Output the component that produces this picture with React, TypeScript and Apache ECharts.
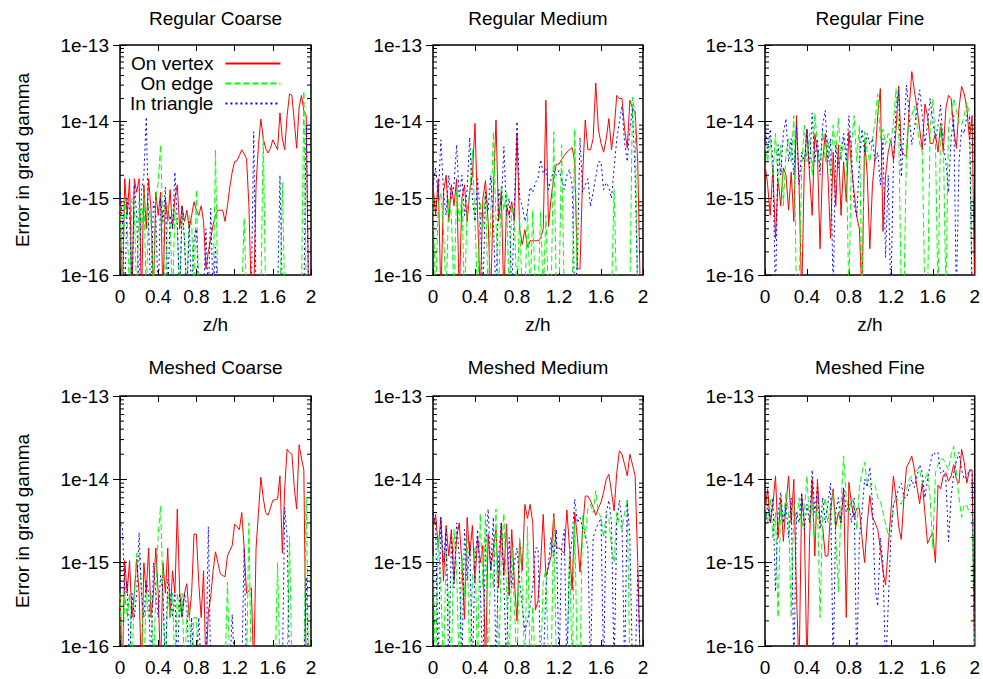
import React, { useEffect, useRef } from 'react';
import * as echarts from 'echarts';

// value used for exact zeros (below the log axis, drawn down to the frame)
const Z = 5e-17;

const zh = [
  0, 0.025, 0.05, 0.075, 0.1, 0.125, 0.15, 0.175,
  0.2, 0.225, 0.25, 0.275, 0.3, 0.325, 0.35, 0.375,
  0.4, 0.425, 0.45, 0.475, 0.5, 0.525, 0.55, 0.575,
  0.6, 0.625, 0.65, 0.675, 0.7, 0.725, 0.75, 0.775,
  0.8, 0.825, 0.85, 0.875, 0.9, 0.925, 0.95, 0.975,
  1, 1.025, 1.05, 1.075, 1.1, 1.125, 1.15, 1.175,
  1.2, 1.225, 1.25, 1.275, 1.3, 1.325, 1.35, 1.375,
  1.4, 1.425, 1.45, 1.475, 1.5, 1.525, 1.55, 1.575,
  1.6, 1.625, 1.65, 1.675, 1.7, 1.725, 1.75, 1.775,
  1.8, 1.825, 1.85, 1.875, 1.9, 1.925, 1.95, 1.975,
  2,
];

const regCoarseVertex = [
  1e-15, Z, 1.8e-15, 6e-16, 1.8e-15, Z, 1.8e-15, 1.2e-15,
  1.8e-15, Z, 1.5e-15, 4e-16, 1.8e-15, 7e-16, Z, 1.2e-15,
  6e-16, 1.2e-15, Z, 1e-15, 5e-16, 1.3e-15, 4e-16, 1e-15,
  1.5e-15, 4e-16, 8e-16, 5e-16, 7e-16, 4e-16, 6e-16, 9e-16,
  7e-16, 6e-16, 8e-16, 5e-16, 1.2e-16, 2e-16, 3e-16, 4.5e-16,
  6e-16, 7e-16, 7e-16, 7e-16, 5e-16, 8e-16, 1.4e-15, 2.2e-15,
  3e-15, 3.1e-15, 3.6e-15, 4.3e-15, 3.8e-15, 3.3e-15, 8e-16, Z,
  Z, 1.5e-15, 5e-15, 1.08e-14, 6e-15, 4.5e-15, 3.9e-15, 4.5e-15,
  5.8e-15, 5e-15, 4.3e-15, 1.3e-14, 6e-15, 4.3e-15, 1.2e-14, 2.3e-14,
  2.2e-14, 1e-14, 4.5e-15, 1.5e-14, 2.2e-14, 1.4e-14, 1.2e-14, Z,
  Z,
];
const regCoarseEdge = [
  8e-16, Z, 1e-15, 5e-16, Z, 1e-15, 7e-16, Z,
  9e-16, 4e-16, 1.2e-15, Z, 8e-16, 5e-16, Z, 1e-15,
  1.6e-15, 5e-15, 4e-16, Z, 8e-16, 5e-16, Z, 7e-16,
  4e-16, Z, 6e-16, 3e-16, Z, 6e-16, 5e-16, Z,
  1.3e-15, Z, Z, Z, Z, Z, Z, Z,
  4.3e-15, Z, Z, Z, Z, Z, Z, Z,
  Z, Z, Z, Z, 5.5e-16, Z, Z, Z,
  Z, Z, Z, Z, 6.7e-15, Z, Z, Z,
  Z, Z, Z, Z, 1.6e-15, Z, Z, Z,
  Z, Z, Z, Z, Z, 2.5e-14, Z, Z,
  Z,
];
const regCoarseTri = [
  1.2e-15, 5e-16, Z, 1e-15, 7e-16, Z, 1.5e-15, 6e-16,
  Z, 1.3e-15, 2e-15, 1.15e-14, 4e-16, Z, 9e-16, 6e-16,
  Z, 1e-15, 5e-16, 1.4e-15, Z, 6e-16, 4e-16, 2.2e-15,
  5e-16, Z, 8e-16, 3e-16, Z, 5e-16, Z, 3e-16,
  4e-16, Z, Z, Z, 4e-16, Z, 7.4e-16, Z,
  2.3e-16, Z, Z, Z, Z, Z, Z, Z,
  Z, Z, Z, Z, Z, Z, Z, Z,
  7.4e-15, Z, Z, Z, Z, Z, Z, Z,
  Z, Z, Z, 2e-15, Z, Z, Z, Z,
  Z, Z, Z, Z, Z, Z, 9e-15, Z,
  Z,
];

const regMedVertex = [
  1.5e-15, 6e-16, 1.8e-15, Z, 1.2e-15, 2e-15, 5e-16, 1.5e-15,
  8e-16, 1.8e-15, Z, 1e-15, 1.5e-15, 5e-16, 1.2e-15, 2e-15,
  9.5e-15, 6e-16, Z, 1e-15, 1.7e-15, 5e-16, Z, 1.2e-15,
  1.05e-14, 5e-16, 1.2e-15, Z, 8e-16, 6e-16, 9e-16, 5e-16,
  7e-15, 4e-16, 2.5e-16, 3.9e-16, 2.3e-16, 2.8e-16, 2.8e-16, 2.8e-16,
  2.8e-16, 3e-16, 4e-16, 1.9e-14, 4.3e-16, 1e-15, 1.9e-15, 2.8e-15,
  2.8e-15, 3.2e-15, 3.6e-15, 4e-15, 4.3e-15, 4.6e-15, 3e-15, 1.2e-16,
  1.2e-16, 2e-15, 1.05e-14, 4.3e-15, 4.3e-15, 6e-15, 3.2e-14, 8e-15,
  5.2e-15, 4e-15, 6e-15, 1.1e-14, 4.3e-15, 8e-15, 2.2e-14, 2e-14,
  2e-14, 8e-15, 4.5e-15, 1.9e-14, 1.5e-14, 1.35e-14, 3e-15, Z,
  Z,
];
const regMedEdge = [
  1e-15, Z, 8e-16, 1.2e-15, 4e-16, Z, 1e-15, 6e-16,
  Z, 1.3e-15, 5e-16, 1e-15, Z, 7e-16, 1.2e-15, 4.3e-15,
  5e-16, Z, 9e-16, 4e-16, 1.3e-15, Z, 6e-16, 7.4e-15,
  5e-16, Z, 1.5e-15, 7e-16, 1.2e-15, Z, 8e-16, 5e-16,
  Z, 6e-16, Z, Z, 7e-16, Z, 7e-16, Z,
  Z, 6.7e-16, Z, 6e-16, Z, Z, 7.4e-15, Z,
  Z, 5e-15, Z, Z, Z, Z, 8e-15, Z,
  Z, Z, Z, Z, Z, Z, Z, Z,
  Z, Z, Z, Z, Z, 1.3e-15, Z, Z,
  Z, Z, Z, Z, 2.1e-14, 1.2e-14, Z, Z,
  Z,
];
const regMedTri = [
  1.5e-15, 2.5e-15, 1e-15, 5.8e-15, 1.2e-15, 6e-16, 2e-15, 1e-15,
  1.5e-15, 5e-15, 1e-15, 2e-15, 6e-16, 1.3e-15, 6.2e-15, 1e-15,
  5e-16, 1.8e-15, 6e-16, Z, 1.2e-15, 7e-16, 2e-15, 5e-16,
  Z, 1.3e-15, 8e-16, 4.7e-15, 6e-16, 1e-15, Z, 8e-16,
  1e-14, 1e-15, 8e-16, 5e-16, 7e-16, 1.4e-15, 1.2e-15, 1.6e-15,
  1.8e-15, 3.2e-15, 2.1e-15, 2.5e-15, 1.3e-15, 1.8e-15, 2.3e-15, 2e-15,
  2.3e-15, 1.8e-15, 1.3e-15, 2e-15, 2.4e-15, 1.5e-15, Z, 1.5e-16,
  6.2e-15, 1.2e-15, 1.5e-15, 1.8e-15, 7.8e-16, 1.2e-15, 1.9e-15, 3e-15,
  3e-15, 1.3e-15, 1.6e-15, 1.4e-15, 1e-15, 2.5e-15, 5.8e-15, 1e-14,
  1.6e-14, 5.2e-15, 3e-15, 8e-15, 1.5e-14, 2e-15, Z, Z,
  Z,
];

const regFineVertex = [
  2.8e-15, 1.5e-15, 6e-16, 2.5e-15, 3e-16, 1.8e-15, 8e-16, 2.5e-15,
  2e-15, 7e-16, 2.2e-15, 5e-16, 1.2e-14, 1.5e-15, Z, 2.5e-15,
  8e-15, 2e-15, 6e-16, 7e-15, 4e-15, 2.2e-16, 3e-15, 7e-15,
  2e-15, 3e-16, 4e-15, 8e-16, 5e-15, 6e-16, 3e-15, 9e-16,
  7.4e-15, 2.5e-15, 1.2e-15, 5.8e-16, 4e-16, Z, 5.8e-15, 2e-15,
  2.2e-16, 1.5e-15, 3.5e-15, 1.2e-14, 2.7e-14, 3.7e-16, 2e-15, 4e-15,
  5.8e-15, 3.1e-15, 8e-15, 2.9e-14, 4.3e-15, 3.7e-15, 3.5e-15, 1.5e-14,
  4.5e-14, 2.5e-14, 1.5e-14, 8e-15, 4.3e-15, 1.7e-14, 1.2e-14, 5.2e-15,
  5.2e-15, 7e-15, 4e-15, 9.5e-15, 4e-15, 1.5e-14, 2.2e-14, 2e-14,
  8e-15, 4.5e-15, 1.5e-14, 2.9e-14, 2.3e-14, 1.5e-14, 5.8e-15, 1.2e-14,
  Z,
];
const regFineEdge = [
  5e-15, 3e-15, 6e-15, 2e-15, 7e-15, 1.5e-15, 5e-15, 8e-16,
  4e-15, 6e-15, 3e-15, 1.2e-14, Z, Z, 2.5e-15, 9e-15,
  3e-15, 7e-15, 2e-15, 1.3e-14, 5e-15, 2.5e-15, 8e-15, 3e-15,
  6e-15, 2e-15, 9e-15, 4e-15, 1.1e-14, 3e-15, 6e-15, 4e-15,
  Z, 5e-15, 1.2e-14, 3e-15, 9e-15, Z, 7.4e-15, 4e-15,
  3e-15, 6e-15, 1e-14, 2.3e-14, 6e-15, 8e-15, 5e-15, 7e-15,
  5e-15, 1e-14, 2.7e-14, 8e-15, Z, Z, 5e-15, 1e-14,
  1.2e-14, 1.6e-14, 9e-15, 5.2e-15, 4e-15, Z, Z, 8e-15,
  2e-14, 6e-15, Z, 9e-15, 7e-15, Z, 9e-15, 1.2e-14,
  2e-14, 1.4e-14, 1e-14, 9e-15, 1.2e-14, 1.8e-14, 1.2e-14, Z,
  Z,
];
const regFineTri = [
  1e-14, 4e-15, 8e-15, 3e-15, Z, 5e-15, 2e-15, 7e-15,
  1.1e-14, 3e-15, 6e-15, 2e-15, 9e-15, 1.5e-15, 4e-15, 3e-15,
  8e-15, 2.5e-15, 1.3e-14, 3e-15, 6e-15, 2e-15, 9e-15, 1.4e-14,
  3e-15, 6e-15, Z, 5e-15, 2.5e-15, 4e-15, 7e-15, 3e-15,
  1.2e-14, 4e-15, 8e-16, 5.8e-16, 3e-15, 8e-15, 4e-15, 7e-15,
  5e-15, 6e-15, 3e-15, 4e-15, 1.5e-15, 6e-15, 1.7e-16, 2e-15,
  Z, 3e-15, 1.5e-14, 2.5e-14, 1.9e-15, 8e-15, 3e-14, 1.2e-14,
  5e-15, 8e-15, 1.5e-14, 2.6e-14, 1.2e-14, 5e-15, 9e-15, 2e-14,
  1e-14, 6e-15, 9e-15, 1.65e-14, 5e-15, 3e-15, 1.2e-15, 6e-15,
  1.2e-14, Z, 3e-15, 8e-15, 7e-15, 1.2e-14, 1.2e-14, Z,
  Z,
];

const meshCoarseVertex = [
  4.3e-16, Z, 1.06e-15, 4.3e-16, 1.06e-15, 2.2e-16, 4.3e-16, 1.1e-15,
  4.3e-16, Z, 1e-15, 4.3e-16, 1.5e-15, 2.2e-16, 4.3e-16, 1.5e-15,
  4.3e-16, Z, 1e-15, 4.3e-16, 1.5e-15, 2.2e-16, 8e-16, 4.3e-16,
  4.4e-15, 4.3e-16, 2.2e-16, 4.3e-16, 5.6e-16, 2.2e-16, 4.3e-16, 2.2e-15,
  2.2e-15, 5.6e-16, 2.2e-16, 8e-16, Z, 2.5e-16, 3.9e-16, 8e-16,
  1.35e-15, 1e-15, 7.4e-16, 7e-16, 6.8e-16, 1.2e-15, 1.4e-15, 1.6e-15,
  2.9e-15, 2.7e-15, 2.5e-15, 4e-15, 1.5e-15, 4.3e-16, 4.6e-16, 5e-16,
  Z, 1.5e-15, 4e-15, 1.06e-14, 6e-15, 4e-15, 3.7e-15, 4.5e-15,
  5.6e-15, 5.7e-15, 5.8e-15, 1.1e-14, 1.3e-15, 8e-15, 2.3e-14, 2.1e-14,
  2e-14, 8e-15, 4.4e-15, 2.6e-14, 1.8e-14, 1.3e-14, Z, Z,
  Z,
];
const meshCoarseEdge = [
  4.3e-16, Z, 4.3e-16, 2.2e-16, 4.3e-16, Z, 4.3e-16, 1.3e-15,
  1.3e-15, 4.3e-16, Z, 4.3e-16, 2.2e-16, 4.3e-16, Z, 4.3e-16,
  2.2e-15, 4.8e-15, 4.3e-16, Z, 4.3e-16, 2.2e-16, 4.3e-16, Z,
  4.3e-16, 2.2e-16, 4.3e-16, Z, 2.2e-16, 3e-16, Z, 2.2e-16,
  2.2e-16, Z, Z, Z, Z, Z, Z, Z,
  Z, Z, Z, Z, Z, 5.8e-16, Z, Z,
  Z, Z, Z, Z, Z, Z, 3e-15, Z,
  Z, Z, Z, Z, Z, Z, Z, Z,
  Z, Z, 1e-15, Z, Z, Z, Z, 2.1e-15,
  Z, Z, Z, Z, Z, Z, 6.1e-15, Z,
  Z,
];
const meshCoarseTri = [
  2.9e-15, 2.7e-15, 4.3e-16, 6e-16, Z, 4.3e-16, 2.2e-16, 4.3e-16,
  2.3e-15, 4.3e-16, 2.2e-16, 6e-16, 4.3e-16, Z, 1e-15, 4.3e-16,
  2.2e-16, 7e-16, 4.3e-16, Z, 6.4e-16, 4.3e-16, 2.2e-16, 4.3e-16,
  Z, 4.3e-16, 2.2e-16, 4.3e-16, 3e-16, Z, 2.2e-16, Z,
  Z, 2.2e-16, Z, Z, Z, 2.7e-15, Z, Z,
  Z, Z, Z, Z, Z, Z, Z, 2.4e-16,
  Z, Z, Z, Z, 1.5e-15, Z, Z, Z,
  Z, Z, Z, Z, Z, Z, Z, Z,
  Z, Z, Z, Z, Z, 4.6e-15, 2e-15, Z,
  Z, Z, Z, Z, Z, Z, 6.7e-16, Z,
  Z,
];

const meshMedVertex = [
  2.5e-15, 3.8e-15, 1.5e-15, 3.5e-15, 6e-16, 2.8e-15, 1.2e-15, 2.5e-15,
  6e-16, 2e-15, 3e-15, 1e-15, 2.1e-16, 3.5e-15, 1.2e-15, 2.8e-15,
  6e-16, 2e-15, 1e-15, 1.6e-15, Z, 2.2e-15, 8e-16, 1.5e-15,
  2.5e-15, 5e-16, 3e-15, 7e-16, 2.9e-15, 4e-16, 2.5e-15, 6e-16,
  2e-16, 1.9e-15, 8e-16, 5e-15, 3.4e-15, 5e-15, 3e-15, 2.7e-16,
  3.5e-16, 1e-15, 3.8e-15, 6.8e-16, 9e-16, 1.2e-15, 3.9e-15, 1.5e-15,
  1.5e-15, 1.4e-15, 1.3e-15, 4.3e-15, 1.5e-15, 4.7e-16, 4e-15, 2e-15,
  7.7e-16, 2.5e-15, 6.3e-15, 6.3e-15, 5.5e-15, 4.6e-15, 3.7e-15, 4.5e-15,
  5.3e-15, 7e-15, 1e-14, 1.15e-14, 7e-15, 4.2e-15, 1.2e-14, 2.2e-14,
  2e-14, 1.5e-14, 1.1e-14, 2e-14, 1.5e-14, 1.1e-14, 1e-15, Z,
  Z,
];
const meshMedEdge = [
  1.2e-15, Z, 2e-15, 5e-16, Z, 1.5e-15, 3e-16, Z,
  2.5e-15, 8e-16, Z, 1.2e-15, 4e-16, 2e-15, Z, 6e-16,
  1.5e-15, Z, 3.9e-15, 5e-16, 3.9e-15, Z, 1e-15, 5e-16,
  4.4e-15, Z, 1.2e-15, 3.9e-15, 5e-16, Z, 1.5e-15, 3e-16,
  Z, 2e-15, 5e-16, Z, 2.7e-15, Z, 3e-16, Z,
  Z, Z, 6e-16, 8.2e-16, Z, Z, 3.5e-15, Z,
  Z, Z, Z, Z, 1.5e-15, Z, 3e-15, Z,
  Z, 3.8e-15, 2e-15, 4.5e-15, 5e-15, 4e-15, 7.3e-15, 4e-15,
  3.5e-15, 2e-15, 3.8e-15, 3.4e-15, 1.5e-15, 1e-15, 4e-15, 3e-15,
  2.5e-15, 4e-15, 5.6e-15, Z, Z, Z, Z, Z,
  Z,
];
const meshMedTri = [
  3.9e-15, 3e-15, Z, 3.5e-15, 1e-15, 2.5e-15, Z, 2e-15,
  5e-16, 3e-15, 1.2e-15, Z, 2.5e-15, 6e-16, 1.8e-15, Z,
  1e-15, 2.5e-15, 5e-16, Z, 1.5e-15, 4.4e-15, 8e-16, 3.5e-15,
  Z, 1.2e-15, 3e-15, 6e-16, Z, 2e-15, 5e-16, 1e-15,
  1.5e-15, 6e-16, 3e-16, 1.5e-16, 2e-16, 3e-16, 5e-16, 1.5e-15,
  1.5e-15, Z, Z, 5e-16, 1e-15, 2e-15, 1.2e-15, 2.5e-15,
  Z, 1.5e-15, 2.5e-15, Z, 1e-15, 2e-15, 5.8e-15, 3e-15,
  3.5e-15, 2.6e-15, 2.2e-15, 1.5e-15, Z, 2e-15, 2.5e-15, 3e-15,
  3.4e-15, Z, 4e-15, 5.6e-15, 3e-15, Z, 3e-15, 5.6e-15,
  3e-15, Z, 5.6e-15, 2e-15, Z, Z, 8e-16, Z,
  Z,
];

const meshFineVertex = [
  4e-15, 7.7e-15, 3e-15, 5e-15, 1.1e-14, 2e-15, 6e-15, 1.8e-15,
  5e-15, 1.1e-14, 3e-15, 1e-14, 4.3e-16, Z, 6.5e-15, 3e-15,
  Z, 2e-15, 1e-14, 1.2e-15, 1e-14, 3e-15, 2.7e-15, 1.2e-15,
  1.2e-15, 4e-15, 7.7e-15, 2.7e-15, 4e-15, 3e-15, 7.7e-15, 2.2e-16,
  9.2e-15, 5e-15, 3.5e-15, 4.5e-15, 4.5e-15, 2e-15, 1e-15, 3e-15,
  6.4e-15, 3.5e-15, 3e-15, 2.5e-15, 1.5e-15, 8e-16, 5.4e-16, 1.5e-15,
  4e-15, 1.1e-14, 6e-15, 2.7e-15, 1.9e-15, 6e-15, 1.4e-14, 1.6e-14,
  1.9e-14, 1.3e-14, 8e-15, 5.1e-15, 9e-15, 4e-15, 1.7e-15, 2e-15,
  2.3e-15, 1e-15, 8.5e-15, 7.7e-15, 1.1e-14, 1.2e-14, 9.5e-15, 1.1e-14,
  1.5e-14, 1e-14, 9e-15, 2.3e-14, 1.6e-14, 9e-15, 1.3e-14, 1.3e-14,
  Z,
];
const meshFineEdge = [
  5e-15, 3e-15, 6e-15, 2e-15, 4e-15, 2.2e-16, 5e-15, 3e-15,
  7e-15, 4e-15, 2.2e-16, 5e-15, 3e-15, 6e-15, 2.5e-15, 4e-15,
  1.1e-14, 3e-15, 5e-15, 2e-15, 6e-15, 2.2e-16, 4e-15, 6e-15,
  3e-15, 5e-15, 7e-15, 2e-15, 4.5e-16, 5e-15, 1.9e-14, 6e-15,
  4e-15, 6e-15, 5e-15, 2.5e-15, 8e-15, 1.2e-14, 1.6e-14, 9e-15,
  8e-15, 9e-15, 8.5e-15, 6e-15, 5.5e-15, 4e-15, 3e-15, 2.1e-15,
  2.5e-15, 5e-15, 6e-15, 5.5e-15, 5e-15, 7e-15, 7.5e-15, 1e-14,
  1.1e-14, 1.2e-14, 1.3e-14, 1.3e-14, 9e-15, 1e-14, 1.2e-14, 6e-15,
  1.5e-15, 1.2e-14, 1.5e-14, 1.75e-14, 1.75e-14, 1.5e-14, 1.3e-14, 2e-14,
  2.5e-14, 1.2e-14, 6e-15, 3.5e-15, 5e-15, 4.8e-15, 4e-15, 4e-15,
  Z,
];
const meshFineTri = [
  2.5e-15, 5e-15, 3e-15, 6e-15, 4.5e-16, 4e-15, 7e-15, 3e-15,
  5e-15, 2e-15, 6e-15, Z, 4e-15, 3e-15, 7e-15, 2.5e-15,
  5e-15, 3e-15, 1.3e-14, 4e-15, 8e-15, 2.5e-15, 6e-15, 3e-15,
  5e-15, 9e-15, Z, 4e-15, 6e-15, 3e-15, 8e-15, 4e-15,
  5e-15, 3e-15, 6e-15, Z, 2e-15, 4e-15, 1e-14, 8e-15,
  1.4e-14, 5e-15, 5e-16, 3e-16, 2e-15, 1e-15, Z, 3e-16,
  2e-15, 5e-15, 6e-15, 7.7e-15, 9e-15, 6e-15, 6e-15, 8e-15,
  1e-14, 8e-15, 1.1e-14, 1.5e-14, 1.2e-14, 6e-15, 1e-14, 1.5e-14,
  2.1e-14, 2e-14, 2.1e-14, 1.2e-14, 1.3e-14, 1e-14, 1.8e-15, 6e-15,
  1.2e-14, 1.6e-14, 2.1e-14, 1.3e-14, 1e-14, 1.1e-14, 1.3e-14, 1.2e-14,
  Z,
];

const panelTitles = [
  'Regular Coarse', 'Regular Medium', 'Regular Fine',
  'Meshed Coarse', 'Meshed Medium', 'Meshed Fine',
];
const seriesNames = ['On vertex', 'On edge', 'In triangle'];
const panelData = [
  [regCoarseVertex, regCoarseEdge, regCoarseTri],
  [regMedVertex, regMedEdge, regMedTri],
  [regFineVertex, regFineEdge, regFineTri],
  [meshCoarseVertex, meshCoarseEdge, meshCoarseTri],
  [meshMedVertex, meshMedEdge, meshMedTri],
  [meshFineVertex, meshFineEdge, meshFineTri],
];
const minorTickValues = [
  2e-16, 3e-16, 4e-16, 5e-16, 6e-16, 7e-16, 8e-16, 9e-16,
  2e-15, 3e-15, 4e-15, 5e-15, 6e-15, 7e-15, 8e-15, 9e-15,
  2e-14, 3e-14, 4e-14, 5e-14, 6e-14, 7e-14, 8e-14, 9e-14,
];
const xAxisName = 'z/h';
const yAxisName = 'Error in grad gamma';

// layout (pixels)
const layout = [
  { left: 120, top: 45, width: 191, height: 230, titleY: 18, xName: true, yName: true },
  { left: 433, top: 45, width: 210, height: 230, titleY: 18, xName: true, yName: false },
  { left: 765, top: 45, width: 210, height: 230, titleY: 18, xName: true, yName: false },
  { left: 120, top: 396, width: 191, height: 250, titleY: 367, xName: false, yName: true },
  { left: 433, top: 396, width: 210, height: 250, titleY: 367, xName: false, yName: false },
  { left: 765, top: 396, width: 210, height: 250, titleY: 367, xName: false, yName: false },
];
const lineStyles = [
  { color: '#ff0000', type: 'solid' as any },
  { color: '#00ff00', type: [6, 3] as any },
  { color: '#0000ff', type: [2, 3] as any },
];
const FONT = '"Liberation Sans", Arial, sans-serif';

function buildOption() {
  const grid: any[] = [];
  const xAxis: any[] = [];
  const yAxis: any[] = [];
  const series: any[] = [];
  const graphic: any[] = [];

  layout.forEach((l, k) => {
    grid.push({
      left: l.left, top: l.top, width: l.width, height: l.height,
      show: true, borderColor: '#000', borderWidth: 1.5, backgroundColor: 'transparent',
    });
    const xBase = {
      gridIndex: k, type: 'value', min: 0, max: 2, interval: 0.4,
      axisLine: { show: false }, splitLine: { show: false },
      axisTick: { inside: true, length: 6, lineStyle: { color: '#000', width: 1 } },
    };
    xAxis.push({
      ...xBase, position: 'bottom',
      axisLabel: { margin: 12, fontSize: 19, color: '#000', fontFamily: FONT },
    });
    xAxis.push({ ...xBase, position: 'top', axisLabel: { show: false } });
    const yBase = {
      gridIndex: k, type: 'log', logBase: 10, min: 1e-16, max: 1e-13,
      axisLine: { show: false }, splitLine: { show: false }, minorTick: { show: false },
      axisTick: { inside: true, length: 7, lineStyle: { color: '#000', width: 1 } },
    };
    yAxis.push({
      ...yBase, position: 'left',
      axisLabel: {
        margin: 11, fontSize: 19, color: '#000', fontFamily: FONT,
        formatter: (v: number) => '1e' + Math.round(Math.log10(v)),
      },
    });
    yAxis.push({ ...yBase, position: 'right', axisLabel: { show: false } });

    panelData[k].forEach((vals, s) => {
      series.push({
        type: 'line', name: seriesNames[s],
        xAxisIndex: 2 * k, yAxisIndex: 2 * k,
        data: zh.map((x, i) => [x, vals[i]]),
        symbol: 'none', showSymbol: false, clip: true, silent: true,
        lineStyle: { color: lineStyles[s].color, width: 1, type: lineStyles[s].type },
        itemStyle: { color: lineStyles[s].color },
        emphasis: { disabled: true },
        z: 2 + s,
      });
    });

    series.push({
      type: 'custom', xAxisIndex: 2 * k, yAxisIndex: 2 * k, silent: true, clip: false, z: 10,
      data: minorTickValues.map((v) => [0, v]),
      renderItem: (params: any, api: any) => {
        const v = api.value(1);
        const a = api.coord([0, v]);
        const b = api.coord([2, v]);
        return {
          type: 'group',
          children: [
            { type: 'line', shape: { x1: a[0], y1: a[1], x2: a[0] + 4, y2: a[1] }, style: { stroke: '#000', lineWidth: 1 } },
            { type: 'line', shape: { x1: b[0] - 4, y1: b[1], x2: b[0], y2: b[1] }, style: { stroke: '#000', lineWidth: 1 } },
          ],
        };
      },
    });

    const cx = l.left + l.width / 2;
    graphic.push({
      type: 'text', x: cx, y: l.titleY,
      style: { text: panelTitles[k], font: '19px ' + FONT, fill: '#000', textAlign: 'center', textVerticalAlign: 'middle', align: 'center', verticalAlign: 'middle' },
    });
    if (l.xName) {
      graphic.push({
        type: 'text', x: cx, y: l.top + l.height + 49,
        style: { text: xAxisName, font: '19px ' + FONT, fill: '#000', textAlign: 'center', textVerticalAlign: 'middle', align: 'center', verticalAlign: 'middle' },
      });
    }
    if (l.yName) {
      graphic.push({
        type: 'text', x: 22, y: l.top + l.height / 2, rotation: Math.PI / 2,
        style: { text: yAxisName, font: '19px ' + FONT, fill: '#000', textAlign: 'center', textVerticalAlign: 'middle', align: 'center', verticalAlign: 'middle' },
      });
    }
  });

  return {
    animation: false,
    backgroundColor: '#ffffff',
    textStyle: { fontFamily: FONT },
    grid, xAxis, yAxis, series, graphic,
    legend: {
      data: seriesNames, orient: 'vertical', align: 'right',
      left: 130, top: 54, padding: 0, itemGap: 1, itemWidth: 55, itemHeight: 12,
      selectedMode: false,
      itemStyle: { opacity: 0, color: 'transparent', borderColor: 'transparent', borderWidth: 0 },
      textStyle: { fontSize: 19, color: '#000', fontFamily: FONT, padding: [0, 7, 0, 0] },
    },
  };
}

export default function App() {
  const ref = useRef<HTMLDivElement>(null);
  useEffect(() => {
    if (!ref.current) return;
    const chart = echarts.init(ref.current, null, { renderer: 'svg' });
    chart.setOption(buildOption() as any);
    return () => chart.dispose();
  }, []);
  return (
    <div
      ref={ref}
      style={{ position: 'absolute', left: 0, top: 0, width: 983, height: 679, background: '#fff' }}
    />
  );
}
